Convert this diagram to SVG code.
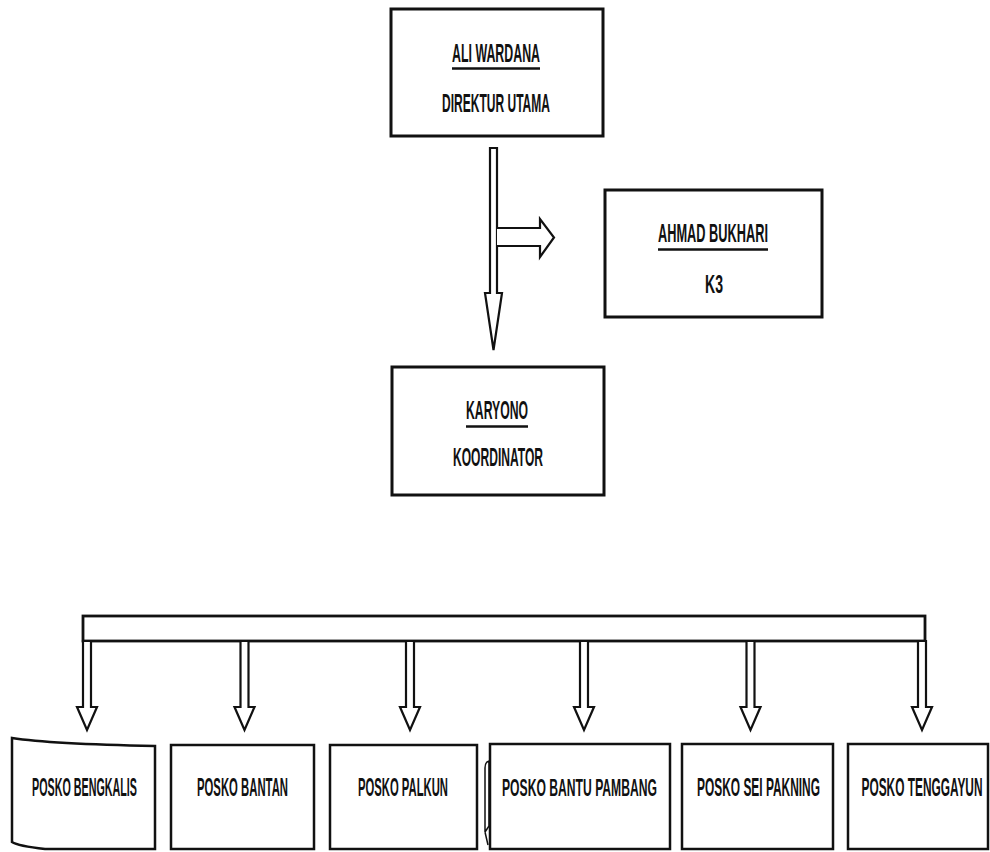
<svg xmlns="http://www.w3.org/2000/svg" width="990" height="852" viewBox="0 0 990 852">
<defs>
<style>
.box{fill:#fff;stroke:#111;stroke-width:3}
.pbox{fill:#fff;stroke:#111;stroke-width:2.5}
.arr{fill:#fff;stroke:#111;stroke-width:2.2;stroke-linejoin:miter}
.t{font-family:"Liberation Sans Narrow","Liberation Sans",Arial,sans-serif;font-size:14.5px;font-weight:bold;fill:#111;text-anchor:middle}
.ul{stroke:#111;stroke-width:2.4}
</style>
<path id="dn" d="M-4,641 H4 V707 H10 L0,730 L-10,707 H-4 Z"/>
</defs>
<rect width="990" height="852" fill="#fff"/>

<g id="connectors">
<path class="arr" d="M490,148 H497 V293 H502 L493.5,350 L485,293 H490 Z"/>
<path class="arr" d="M497,228 H540 V219 L554,237.5 L540,257 V246 H497"/>
<rect class="arr" x="83" y="616" width="842" height="25" style="stroke-width:2.8"/>
<use href="#dn" class="arr" x="87"/>
<use href="#dn" class="arr" x="244.5"/>
<use href="#dn" class="arr" x="410"/>
<use href="#dn" class="arr" x="584"/>
<use href="#dn" class="arr" x="750.5"/>
<use href="#dn" class="arr" x="922"/>
<path d="M485,832 V768 Q485,762 489,761 M489,761 V826 M485,832 L489,826 M485,832 L488,845" fill="none" stroke="#111" stroke-width="1.5"/>
</g>

<g id="direktur">
<rect class="box" x="391" y="9" width="212" height="127"/>
<text class="t" transform="translate(496,62) scale(1,1.83)" textLength="88" lengthAdjust="spacingAndGlyphs">ALI WARDANA</text>
<line class="ul" x1="452" y1="68.5" x2="540" y2="68.5"/>
<text class="t" transform="translate(496,112) scale(1,1.83)" textLength="108" lengthAdjust="spacingAndGlyphs">DIREKTUR UTAMA</text>
</g>

<g id="k3">
<rect class="box" x="605" y="190" width="217" height="127"/>
<text class="t" transform="translate(713,242) scale(1,1.83)" textLength="110" lengthAdjust="spacingAndGlyphs">AHMAD BUKHARI</text>
<line class="ul" x1="658" y1="249.5" x2="768" y2="249.5"/>
<text class="t" transform="translate(714,293) scale(1,1.83)" textLength="18" lengthAdjust="spacingAndGlyphs">K3</text>
</g>

<g id="koordinator">
<rect class="box" x="392" y="367" width="212" height="128"/>
<text class="t" transform="translate(497,419) scale(1,1.83)" textLength="62" lengthAdjust="spacingAndGlyphs">KARYONO</text>
<line class="ul" x1="466" y1="426.5" x2="528" y2="426.5"/>
<text class="t" transform="translate(498,466) scale(1,1.83)" textLength="90" lengthAdjust="spacingAndGlyphs">KOORDINATOR</text>
</g>

<g id="posko-bengkalis">
<path class="pbox" d="M12,738 Q50,744 155,746 V849 H45 Q18,846 12,842 Z"/>
<text class="t" transform="translate(84.5,796) scale(1,1.83)" textLength="105" lengthAdjust="spacingAndGlyphs">POSKO BENGKALIS</text>
</g>
<g id="posko-bantan">
<rect class="pbox" x="171" y="745" width="143" height="104"/>
<text class="t" transform="translate(242.5,796) scale(1,1.83)" textLength="91" lengthAdjust="spacingAndGlyphs">POSKO BANTAN</text>
</g>
<g id="posko-palkun">
<rect class="pbox" x="330" y="745" width="147" height="104"/>
<text class="t" transform="translate(403,796) scale(1,1.83)" textLength="90" lengthAdjust="spacingAndGlyphs">POSKO PALKUN</text>
</g>
<g id="posko-bantu-pambang">
<rect class="pbox" x="490" y="744" width="180" height="105"/>
<text class="t" transform="translate(579.5,796) scale(1,1.83)" style="font-size:13px" textLength="155" lengthAdjust="spacingAndGlyphs">POSKO BANTU PAMBANG</text>
</g>
<g id="posko-sei-pakning">
<rect class="pbox" x="682" y="744" width="151" height="105"/>
<text class="t" transform="translate(758.5,796) scale(1,1.83)" textLength="123" lengthAdjust="spacingAndGlyphs">POSKO SEI PAKNING</text>
</g>
<g id="posko-tenggayun">
<rect class="pbox" x="848" y="744" width="140" height="105"/>
<text class="t" transform="translate(922,796) scale(1,2.21)" style="font-size:12px" textLength="121" lengthAdjust="spacingAndGlyphs">POSKO TENGGAYUN</text>
</g>
</svg>
